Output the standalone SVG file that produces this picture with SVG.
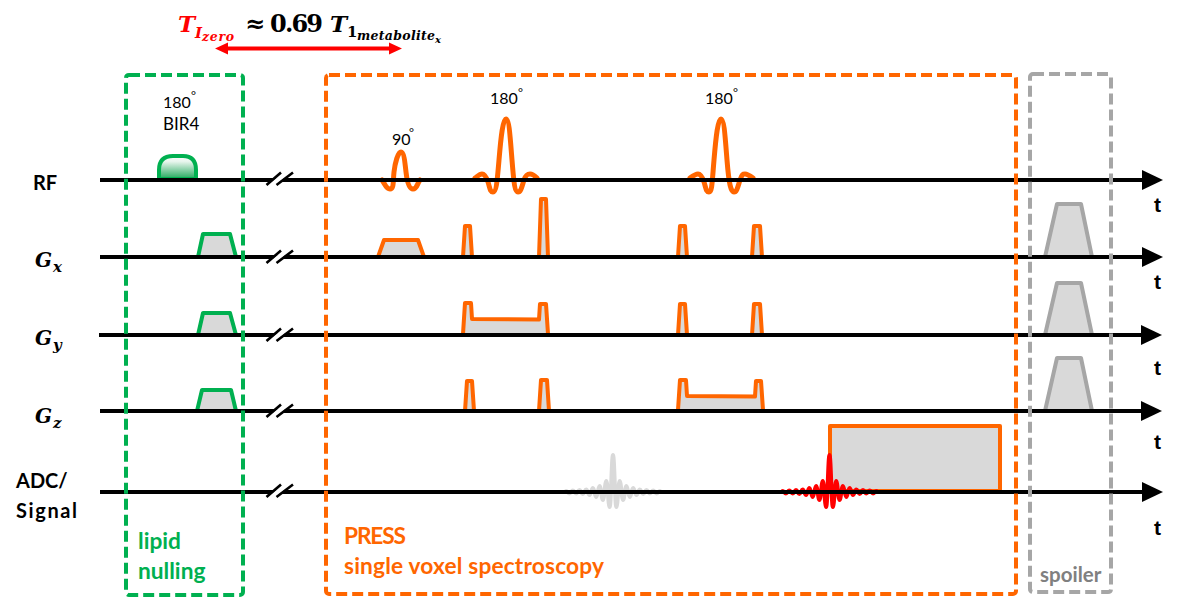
<svg xmlns="http://www.w3.org/2000/svg" xmlns:xlink="http://www.w3.org/1999/xlink" width="1184" height="603" viewBox="0 0 1184 603">
<style>
text{font-family:"Lato","Open Sans","Liberation Sans",sans-serif}
.lab{font-size:20px;font-weight:700;fill:#000}
.deg{font-size:16px;fill:#000}
.sup{font-size:12px;fill:#000}
.t{font-family:"Liberation Sans",Arial,sans-serif;font-size:21px;font-weight:700;fill:#000}
.m{font-family:"DejaVu Serif","Liberation Serif",serif;font-weight:700;font-style:italic;fill:#000}
.mn{font-family:"DejaVu Serif","Liberation Serif",serif;font-weight:700;fill:#000}
.red{fill:#ff0000}
.axis{stroke:#000;stroke-width:4;fill:none}
.head{fill:#000}
.box{fill:none;stroke-width:4;stroke-dasharray:11 5}
.pg{fill:#d9d9d9;stroke:#00b050;stroke-width:4;stroke-linejoin:round}
.po{fill:#d9d9d9;stroke:#ff6600;stroke-width:4;stroke-linejoin:round}
.pa{fill:#d9d9d9;stroke:#a6a6a6;stroke-width:4;stroke-linejoin:round}
.rf{fill:none;stroke:#ff6600;stroke-width:5;stroke-linecap:round}
.echo{fill:none;stroke-width:4;stroke-linecap:round;stroke-linejoin:round}
.big{font-size:22.7px;font-weight:700}
</style>
<defs>
<linearGradient id="bir" x1="0" y1="0" x2="0" y2="1">
<stop offset="0" stop-color="#ffffff"/><stop offset="0.25" stop-color="#e6f5ec"/><stop offset="1" stop-color="#1fa75a"/>
</linearGradient>
<path id="echoShape" d="M-46.9 -1C-45.5 -1 -45 1.5 -43.55 1.5S-41.6 -1.5 -40.2 -1.5S-38.25 1.5 -36.85 1.5S-34.9 -2 -33.5 -2S-31.55 2 -30.15 2S-28.2 -2.5 -26.8 -2.5S-24.85 3 -23.45 3S-21.5 -4 -20.1 -4S-18.15 5 -16.75 5S-14.8 -6 -13.4 -6S-11.45 8 -10.05 8S-8.1 -11 -6.7 -11S-4.75 15 -3.35 15S-1.4 -37 0 -37S1.95 15 3.35 15S5.3 -11 6.7 -11S8.65 8 10.05 8S12 -6 13.4 -6S15.35 5 16.75 5S18.7 -4 20.1 -4S22.05 3 23.45 3S25.4 -2.5 26.8 -2.5S28.75 2 30.15 2S32.1 -2 33.5 -2S35.45 1.5 36.85 1.5S38.8 -1.5 40.2 -1.5S42.15 1.5 43.55 1.5S45.5 -1 46.9 -1"/>
<g id="brk">
<path d="M-9 6.5L7 -6.5" stroke="#ffffff" stroke-width="5" fill="none"/>
<path d="M-13.5 6L1 -6.5M-3.5 6L13 -6.5" stroke="#000" stroke-width="2.6" fill="none"/>
</g>
</defs>

<g id="title">
<text class="m red" x="178" y="32" font-size="23">T</text>
<text class="m red" x="195" y="38" font-size="15">I</text>
<text class="m red" x="202" y="41" font-size="12.5" textLength="32">zero</text>
<text class="mn" x="245" y="32" font-size="24">≈</text>
<text class="mn" x="270" y="32" font-size="24" textLength="53">0.69</text>
<text class="m" x="330" y="32" font-size="23">T</text>
<text class="mn" x="347" y="37" font-size="15">1</text>
<text class="m" x="357" y="40" font-size="12.5" textLength="78">metabolite</text>
<text class="m" x="435" y="43" font-size="10">x</text>
</g>
<g id="tizero-arrow">
<path d="M226 48.5H392" stroke="#ff0000" stroke-width="4" fill="none"/>
<path d="M215 48.5L228 42.5V54.5ZM402 48.5L389 42.5V54.5Z" fill="#ff0000"/>
</g>

<g id="rf-labels">
<text class="deg" x="163" y="108">180</text><text class="sup" x="191" y="100">°</text>
<text class="deg" x="163" y="130" style="font-size:17px">BIR4</text>
<text class="deg" x="392" y="145">90</text><text class="sup" x="409" y="137">°</text>
<text class="deg" x="490" y="104">180</text><text class="sup" x="518" y="97">°</text>
<text class="deg" x="705" y="104">180</text><text class="sup" x="733" y="97">°</text>
</g>

<g id="echo-grey"><use xlink:href="#echoShape" href="#echoShape" x="613" y="492" class="echo" stroke="#d9d9d9"/></g>

<g id="adc-window"><path class="po" d="M830 491V426H1000V491Z"/></g>
<g id="echo-red"><use xlink:href="#echoShape" href="#echoShape" x="829.5" y="492" class="echo" stroke="#ff0000"/></g>

<g id="pulse-bir4"><path d="M159 179V170Q159 156 173 156H183Q196 156 196 170V179Z" fill="url(#bir)" stroke="#00b050" stroke-width="4"/></g>
<g id="lipid-gradients">
<path class="pg" d="M198 257L203 234H230L236 257"/>
<path class="pg" d="M198 335L203 313H230L236 335"/>
<path class="pg" d="M197 411L202 390H231L236 411"/>
</g>
<g id="press-rf">
<path class="rf" d="M382 180C385 184 386 189 390 189S393 181 394 172S398 152 401 152S405 163 406 172S409 189 413 189S417 184 420 180"/>
<path class="rf" d="M475 178C479 175 480 174 482 174S486 176 488 182S490 192 493 192S497 184 499 160S503 119 506 119S510 135 512 160S515 192 518 192S522 186 524 180S528 174 530 174S534 175 537 178"/>
<path class="rf" d="M690 178C694 175 696 174 698 174S702 176 704 182S706 192 709 192S712 184 714 160S718 119 721 119S725 135 727 160S731 192 734 192S738 186 740 180S743 174 745 174S749 175 753 178"/>
</g>
<g id="press-gx">
<path class="po" d="M378 257L384 240H418L424 257"/>
<path class="po" d="M463 257L465 226H470L472 257"/>
<path class="po" d="M539 257L541 199H546L548 257"/>
<path class="po" d="M678 257L680 226H685L687 257"/>
<path class="po" d="M752 257L754 226H760L762 257"/>
</g>
<g id="press-gy">
<path class="po" d="M463 334L465 303H471L472 319L539 319.5L540 304H546L548 334"/>
<path class="po" d="M678 335L680 304H685L687 335"/>
<path class="po" d="M752 335L754 304H760L762 335"/>
</g>
<g id="press-gz">
<path class="po" d="M465 411L467 381H472L474 411"/>
<path class="po" d="M539 411L541 380H547L549 411"/>
<path class="po" d="M678 410L680 380H686L687 396L755 396.5L756 381H761L763 410"/>
</g>
<g id="spoilers">
<path class="pa" d="M1045 257L1057 204H1081L1092 257"/>
<path class="pa" d="M1045 335L1057 283H1081L1092 335"/>
<path class="pa" d="M1045 411L1057 358H1081L1092 411"/>
</g>

<g id="connectors">
<path class="axis" d="M100 180H1144"/><path class="head" d="M1142 170L1163 180L1142 190Z"/>
<path class="axis" d="M100 257H1144"/><path class="head" d="M1142 247L1163 257L1142 267Z"/>
<path class="axis" d="M99 335H1143"/><path class="head" d="M1141 325L1162 335L1141 345Z"/>
<path class="axis" d="M100 411H1143"/><path class="head" d="M1141 401L1162 411L1141 421Z"/>
<path class="axis" d="M100 492H1144"/><path class="head" d="M1142 482L1163 492L1142 502Z"/>
</g>
<g id="breaks">
<use xlink:href="#brk" href="#brk" x="280" y="179"/>
<use xlink:href="#brk" href="#brk" x="280" y="257"/>
<use xlink:href="#brk" href="#brk" x="280" y="335"/>
<use xlink:href="#brk" href="#brk" x="280" y="411"/>
<use xlink:href="#brk" href="#brk" x="280" y="491"/>
</g>

<g id="box-lipid"><rect class="box" x="126" y="75" width="117" height="520" rx="3" stroke="#00b050"/>
<text class="big" x="138" y="549" fill="#00b050">lipid</text>
<text class="big" x="138" y="579" fill="#00b050">nulling</text></g>
<g id="box-press"><rect class="box" x="326" y="75" width="690" height="519" rx="3" stroke="#ff6600"/>
<text class="big" x="344" y="544" fill="#ff6600" textLength="62">PRESS</text>
<text class="big" x="344" y="574" fill="#ff6600" textLength="260">single voxel spectroscopy</text></g>
<g id="box-spoiler"><rect class="box" x="1030" y="74" width="81" height="518" rx="3" stroke="#a6a6a6"/>
<text x="1040" y="582" font-size="20.5" font-weight="700" fill="#808080">spoiler</text></g>

<g id="row-labels">
<text class="lab" x="33" y="190">RF</text>
<text class="m" x="35" y="267" font-size="20">G</text><text class="m" x="53" y="272" font-size="15">x</text>
<text class="m" x="35" y="345" font-size="20">G</text><text class="m" x="53" y="350" font-size="15">y</text>
<text class="m" x="35" y="423" font-size="20">G</text><text class="m" x="53" y="428" font-size="15">z</text>
<text class="lab" x="16" y="488">ADC/</text>
<text class="lab" x="16" y="518" textLength="61">Signal</text>
</g>
<g id="time-labels">
<text class="t" x="1154" y="212">t</text>
<text class="t" x="1154" y="289">t</text>
<text class="t" x="1154" y="375">t</text>
<text class="t" x="1154" y="449">t</text>
<text class="t" x="1154" y="535">t</text>
</g>
</svg>
